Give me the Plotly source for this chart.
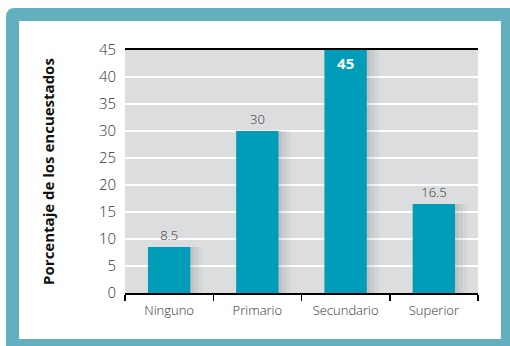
import plotly.graph_objects as go

categories = ["Ninguno", "Primario", "Secundario", "Superior"]
values = [8.5, 30, 45, 16.5]
value_labels = ["8.5", "30", "45", "16.5"]
y_ticks = [0, 5, 10, 15, 20, 25, 30, 35, 40, 45]

W, H = 510, 346
L, R, T, B = 125, 32, 50, 53
pw, ph = W - L - R, H - T - B

def px_x(x):
    return (x - L) / pw

def px_y(y):
    return (H - B - y) / ph

bar_color = "#009DB9"

fig = go.Figure()

text_out = [t if v < max(values) else "" for t, v in zip(value_labels, values)]
text_in = [t if v == max(values) else "" for t, v in zip(value_labels, values)]

# soft shadow
for w, a in [(0.62, 0.035), (0.57, 0.04), (0.52, 0.05)]:
    fig.add_trace(go.Bar(
        x=categories, y=values, width=w, offset=-0.24,
        marker=dict(color=f"rgba(0,0,0,{a})", line=dict(width=0)),
        hoverinfo="skip", showlegend=False,
    ))
fig.add_trace(go.Bar(
    x=categories, y=values, width=0.48, offset=-0.24,
    marker=dict(color=bar_color, line=dict(width=0)),
    text=text_out, textposition="outside", cliponaxis=False,
    textfont=dict(family="Open Sans", size=13, color="#333333", weight=300),
    hoverinfo="skip", showlegend=False,
))
fig.add_trace(go.Bar(
    x=categories, y=values, width=0.48, offset=-0.24,
    marker=dict(color="rgba(0,0,0,0)", line=dict(width=0)),
    text=text_in, textposition="inside", insidetextanchor="end",
    textfont=dict(family="Open Sans", size=15, color="white", weight="bold"),
    hoverinfo="skip", showlegend=False,
))

r = 9
x0, y0 = 6, 8
frame_path = (
    f"M {px_x(x0)},{px_y(360)} L {px_x(x0)},{px_y(y0 + r)} "
    f"Q {px_x(x0)},{px_y(y0)} {px_x(x0 + r)},{px_y(y0)} "
    f"L {px_x(520)},{px_y(y0)} L {px_x(520)},{px_y(360)} Z"
)

shapes = [
    dict(type="path", xref="paper", yref="paper", layer="below",
         path=frame_path, fillcolor="#64AFBE", line=dict(width=0)),
    dict(type="rect", xref="paper", yref="paper", layer="below",
         x0=px_x(19), x1=px_x(501), y0=px_y(339), y1=px_y(21),
         fillcolor="white", line=dict(width=0)),
    dict(type="rect", xref="paper", yref="paper", layer="below",
         x0=0, x1=1, y0=0, y1=1, fillcolor="#DCDDDF", line=dict(width=0)),
]

fig.update_layout(
    width=W, height=H,
    margin=dict(l=L, r=R, t=T, b=B, pad=0),
    paper_bgcolor="white",
    plot_bgcolor="rgba(0,0,0,0)",
    barmode="overlay",
    shapes=shapes,
    font=dict(family="Open Sans", color="#333333", size=13),
    xaxis=dict(
        type="category", showline=True, linecolor="black", linewidth=2,
        mirror=True, ticks="outside", tickson="boundaries", ticklen=6,
        tickcolor="black", tickwidth=1.5, ticklabelstandoff=4,
        tickfont=dict(family="Open Sans", size=13, color="#333333", weight=300),
        showgrid=False, zeroline=False,
    ),
    yaxis=dict(
        range=[0, 45], tickvals=y_ticks, showline=False,
        showgrid=True, gridcolor="white", gridwidth=1.5, zeroline=False,
        ticks="", ticklabelstandoff=8,
        tickfont=dict(family="Open Sans", size=15, color="#333333", weight=300),
        title=dict(text="Porcentaje de los encuestados", standoff=40,
                   font=dict(family="Open Sans", size=15, color="#111111", weight="bold")),
        layer="below traces",
    ),
)

fig.write_html(
    "out.html",
    config={"displayModeBar": False, "staticPlot": True},
    post_script="document.body.style.margin='0';document.body.style.overflow='hidden';",
)
